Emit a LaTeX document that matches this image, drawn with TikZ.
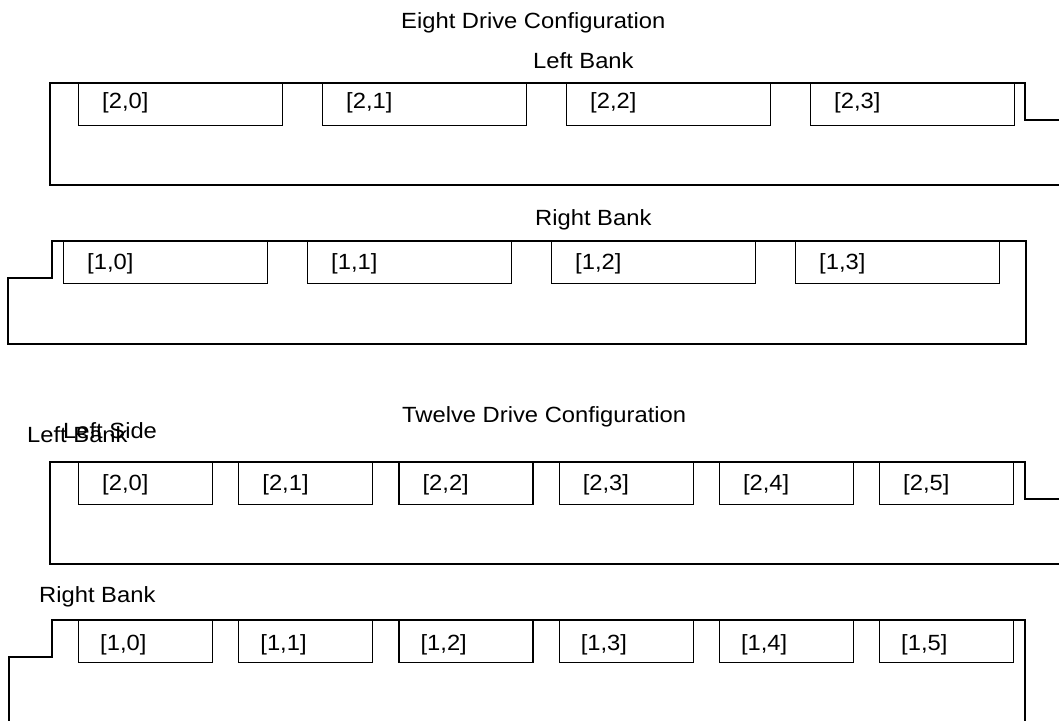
\documentclass[tikz,border=0pt]{standalone}
\usepackage{fontspec}
\setmainfont{Liberation Sans}[FakeStretch=1.08]
\usetikzlibrary{calc}
\begin{document}
\begin{tikzpicture}[x=1pt,y=-1pt,
  outline/.style={draw=black,line width=1.3pt},
  drive/.style={draw=black,line width=1.2pt,fill=white,rectangle,inner sep=0pt,anchor=north west,minimum height=41.5pt},
  lbl/.style={inner sep=0pt,anchor=base west,font=\fontsize{22}{26}\selectfont},
]
\useasboundingbox (0,0) rectangle (1059,720);
% ---------- Eight drive configuration ----------
\node[lbl] (t8) at (401,28) {Eight Drive Configuration};
\node[lbl] (lb8) at (533,68) {Left Bank};
\draw[outline] (1062,120) -- (1025,120) -- (1025,83) -- (50,83) -- (50,185) -- (1062,185);
\foreach \i in {0,...,3}{
  \node[drive,minimum width=204pt] (a\i) at ({78+244*\i},83) {};
  \node[lbl] (la\i) at ($(a\i.north west)+(24,25)$) {[2,\i]};
}
\node[lbl] (rb8) at (535,225) {Right Bank};
\draw[outline] (52,241) -- (1026,241) -- (1026,344) -- (8,344) -- (8,278) -- (52,278) -- cycle;
\foreach \i in {0,...,3}{
  \node[drive,minimum width=204pt] (b\i) at ({63+244*\i},241) {};
  \node[lbl] (lb\i) at ($(b\i.north west)+(24,28)$) {[1,\i]};
}
% ---------- Twelve drive configuration ----------
\node[lbl] (t12) at (402,422) {Twelve Drive Configuration};
\node[lbl] (lb12) at (27,442) {Left Bank};
\node[lbl] (ls12) at (63,438) {Left Side};
\draw[outline] (1062,499) -- (1025,499) -- (1025,462) -- (50,462) -- (50,564) -- (1062,564);
\foreach \i in {0,...,5}{
  \node[drive,minimum width=134pt] (c\i) at ({78+160.2*\i},462) {};
  \node[lbl] (lc\i) at ($(c\i.north west)+(24,28)$) {[2,\i]};
}
\node[lbl] (rb12) at (39,602) {Right Bank};
\draw[outline] (9,723) -- (9,657) -- (52,657) -- (52,620) -- (1025,620) -- (1025,723);
\foreach \i in {0,...,5}{
  \node[drive,minimum width=134pt] (d\i) at ({78+160.2*\i},620) {};
  \node[lbl] (ld\i) at ($(d\i.north west)+(22,30)$) {[1,\i]};
}
\end{tikzpicture}
\end{document}
